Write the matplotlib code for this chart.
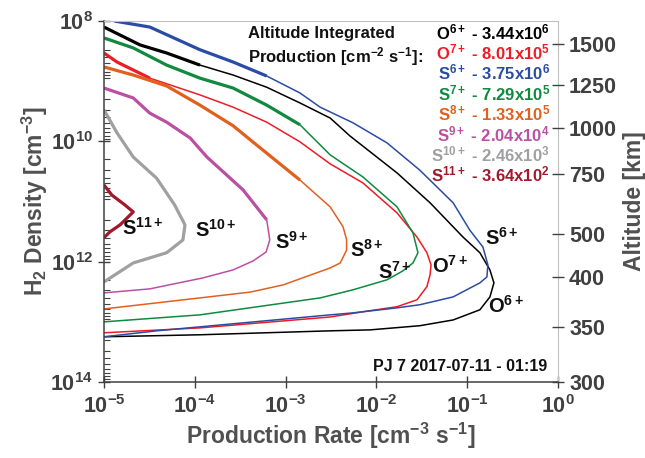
import matplotlib.pyplot as plt
import numpy as np

plt.rcParams['font.family'] = ['Liberation Sans', 'DejaVu Sans']
plt.rcParams['font.weight'] = 'bold'
plt.rcParams['axes.labelweight'] = 'bold'
plt.rcParams['mathtext.fontset'] = 'custom'
plt.rcParams['mathtext.rm'] = 'Liberation Sans:bold'
plt.rcParams['mathtext.it'] = 'Liberation Sans:bold'
plt.rcParams['mathtext.bf'] = 'Liberation Sans:bold'
plt.rcParams['mathtext.default'] = 'rm'

# production rate [cm^-3 s^-1] against H2 density [cm^-3], from the top down
o6_rate = [1.0e-5, 2.5e-5, 4.9e-5, 1.14e-4, 2.64e-4, 6.2e-4, 1.44e-3, 3.1e-3, 5.1e-3, 1.69e-2, 3.9e-2,
           9.0e-2, 0.138, 0.178, 0.197, 0.178, 0.138, 0.070, 0.030, 8.5e-3, 3.1e-3, 1.14e-4, 1.0e-5]
o6_dens = [1.26e8, 2.5e8, 3.4e8, 5.4e8, 7.9e8, 1.26e9, 2.3e9, 4.1e9, 8.1e9, 3.35e10, 1.05e11,
           3.9e11, 7.1e11, 1.37e12, 2.25e12, 3.85e12, 6.3e12, 9.3e12, 1.16e13, 1.36e13, 1.41e13, 1.64e13, 1.77e13]

o7_rate = [1.0e-5, 1.39e-5, 3.2e-5, 1.14e-4, 2.64e-4, 6.2e-4, 1.44e-3, 3.1e-3, 7.1e-3, 1.69e-2, 2.8e-2,
           3.6e-2, 4.0e-2, 3.9e-2, 3.6e-2, 2.8e-2, 1.69e-2, 7.1e-3, 3.1e-3, 1.14e-4, 1.0e-5]
o7_dens = [3.4e8, 4.8e8, 8.9e8, 1.69e9, 2.7e9, 4.8e9, 1.02e10, 2.37e10, 4.9e10, 1.55e11, 3.9e11,
           7.1e11, 1.13e12, 1.66e12, 2.6e12, 4.3e12, 5.6e12, 6.8e12, 8.3e12, 1.26e13, 1.52e13]

s6_rate = [1.3e-5, 3.2e-5, 1.14e-4, 2.64e-4, 6.2e-4, 1.44e-3, 2.4e-3, 5.5e-3, 1.31e-2, 3.0e-2, 7.0e-2, 0.107,
           0.149, 0.169, 0.165, 0.138, 0.070, 0.030, 1.69e-2, 5.5e-3, 3.1e-3, 1.14e-4, 3.8e-5, 1.0e-5]
s6_dens = [1.0e8, 1.26e8, 3.0e8, 4.8e8, 8.2e8, 1.57e9, 2.7e9, 4.9e9, 1.06e10, 3.0e10, 1.05e11, 3.0e11,
           5.7e11, 1.13e12, 1.79e12, 2.25e12, 3.85e12, 5.2e12, 5.85e12, 7.1e12, 7.65e12, 1.21e13, 1.41e13, 1.77e13]

s7_rate = [1.0e-5, 2.1e-5, 4.9e-5, 1.14e-4, 2.64e-4, 6.2e-4, 1.44e-3, 3.1e-3, 7.1e-3, 1.69e-2, 2.53e-2,
           2.87e-2, 2.53e-2, 1.96e-2, 1.31e-2, 5.5e-3, 2.4e-3, 1.14e-4, 1.0e-5]
s7_dens = [1.91e8, 2.8e8, 5.4e8, 8.9e8, 1.3e9, 2.5e9, 5.3e9, 1.68e10, 3.9e10, 1.23e11, 3.33e11,
           7.1e11, 1.05e12, 1.42e12, 2.0e12, 2.94e12, 4.0e12, 7.65e12, 1.0e13]

s8_rate = [1.0e-5, 2.1e-5, 4.9e-5, 1.14e-4, 2.64e-4, 4.8e-4, 1.44e-3, 3.1e-3, 4.3e-3, 4.7e-3, 4.7e-3,
           4.0e-3, 3.1e-3, 9.4e-4, 4.1e-4, 1.14e-4, 1.0e-5]
s8_dens = [5.8e8, 7.9e8, 1.2e9, 2.5e9, 5.5e9, 1.15e10, 4.4e10, 1.23e11, 2.64e11, 4.35e11, 6.4e11,
           1.05e12, 1.27e12, 2.43e12, 3.2e12, 4.0e12, 6.1e12]

s9_rate = [1.0e-5, 2.1e-5, 3.2e-5, 4.9e-5, 8.9e-5, 1.36e-4, 3.4e-4, 6.2e-4, 6.7e-4, 6.1e-4, 4.4e-4,
           2.64e-4, 1.23e-4, 3.2e-5, 1.0e-5]
s9_dens = [1.3e9, 1.9e9, 3.4e9, 4.8e9, 8.8e9, 1.82e10, 6.4e10, 2.02e11, 4.35e11, 6.9e11, 9.7e11,
           1.37e12, 1.86e12, 2.83e12, 3.3e12]

s10_rate = [1.0e-5, 1.39e-5, 2.1e-5, 3.8e-5, 6.0e-5, 7.8e-5, 7.4e-5, 4.9e-5, 2.1e-5, 1.0e-5]
s10_dens = [3.0e9, 7.2e9, 1.82e10, 4.1e10, 1.14e11, 2.45e11, 4.35e11, 7.1e11, 1.05e12, 2.17e12]

s11_rate = [1.0e-5, 1.22e-5, 1.7e-5, 2.1e-5, 1.5e-5, 1.16e-5, 1.0e-5]
s11_dens = [5.3e10, 7.8e10, 1.14e11, 1.49e11, 2.45e11, 3.2e11, 4.0e11]

ions = ['O$^{6+}$', 'O$^{7+}$', 'S$^{6+}$', 'S$^{7+}$', 'S$^{8+}$', 'S$^{9+}$', 'S$^{10+}$', 'S$^{11+}$']
column_rates = ['3.44x10$^{6}$', '8.01x10$^{5}$', '3.75x10$^{6}$', '7.29x10$^{5}$',
                '1.33x10$^{5}$', '2.04x10$^{4}$', '2.46x10$^{3}$', '3.64x10$^{2}$']
rates = [o6_rate, o7_rate, s6_rate, s7_rate, s8_rate, s9_rate, s10_rate, s11_rate]
densities = [o6_dens, o7_dens, s6_dens, s7_dens, s8_dens, s9_dens, s10_dens, s11_dens]

# where each curve label sits (rate, density)
label_rate = [0.169, 4.1e-2, 0.157, 1.04e-2, 5.1e-3, 7.6e-4, 1.0e-4, 1.58e-5]
label_dens = [5.4e12, 1.17e12, 4.0e11, 1.48e12, 6.3e11, 4.7e11, 2.97e11, 2.75e11]

alt_ticks = [1500, 1250, 1000, 750, 500, 400, 350, 300]
alt_dens = [2.4e8, 1.15e9, 6.0e9, 3.47e10, 3.47e11, 1.78e12, 1.2e13, 1.0e14]

colors = ['#000000', '#ee1c25', '#2b4ca5', '#0f8a3f', '#e2601e', '#bb50a2', '#a0a0a2', '#a3192c']
# curves are noisy (thicker) above these densities
noisy_until = [6e8, 1.0e9, 1.5e9, 1.5e10, 1.0e11, 4.0e11, 1e13, 1e13]

fig = plt.figure(figsize=(6.45, 4.58), dpi=100)
ax = fig.add_axes([0.1612, 0.1659, 0.7039, 0.7882])

for r, d, c, lim in zip(rates, densities, colors, noisy_until):
    r = np.array(r)
    d = np.array(d)
    ax.plot(r, d, color=c, lw=1.1)
    top = d <= lim
    ax.plot(r[top], d[top], color=c, lw=2.3, solid_capstyle='butt')

for ion, x, y in zip(ions, label_rate, label_dens):
    ax.text(x, y, ion, fontsize=14.5, ha='left', va='center', color='#111111')

ax.set_xscale('log')
ax.set_yscale('log')
ax.set_xlim(1e-5, 1)
ax.set_ylim(1e14, 1e8)

grey = '#404040'
ax.set_xticks([1e-5, 1e-4, 1e-3, 1e-2, 1e-1, 1])
ax.set_xticklabels(['$10^{-5}$', '$10^{-4}$', '$10^{-3}$', '$10^{-2}$', '$10^{-1}$', '$10^{0}$'])
ax.set_yticks([1e8, 1e10, 1e12, 1e14])
ax.set_yticklabels(['$10^{8}$', '$10^{10}$', '$10^{12}$', '$10^{14}$'])
ax.tick_params(which='major', direction='inout', length=9, width=1, color=grey,
               labelsize=15.5, labelcolor=grey)
ax.tick_params(which='minor', direction='in', length=4, width=0.8, color=grey)
ax.tick_params(axis='x', pad=5)
for s in ['left', 'bottom']:
    ax.spines[s].set_color(grey)
    ax.spines[s].set_linewidth(1.1)
for s in ['top', 'right']:
    ax.spines[s].set_color('#c0c0c0')

ax.set_xlabel('Production Rate [cm$^{-3}$ s$^{-1}$]', fontsize=16.5, color='#505050', labelpad=2)
ax.set_ylabel('H$_{2}$ Density [cm$^{-3}$]', fontsize=16.5, color='#505050', labelpad=0)

ax2 = ax.twinx()
ax2.set_yscale('log')
ax2.set_ylim(1e14, 1e8)
ax2.set_yticks(alt_dens)
ax2.set_yticklabels([str(a) for a in alt_ticks])
ax2.minorticks_off()
ax2.tick_params(direction='inout', length=9, width=1, color=grey, labelsize=15.5, labelcolor=grey)
for s in ax2.spines.values():
    s.set_visible(False)
ax2.set_ylabel('Altitude [km]', fontsize=16.5, color='#505050', labelpad=4)

ax.text(0.317, 0.953, 'Altitude Integrated', transform=ax.transAxes, fontsize=12, ha='left',
        va='baseline', color='#111111')
ax.text(0.317, 0.886, 'Production [cm$^{-2}$ s$^{-1}$]:', transform=ax.transAxes, fontsize=12,
        ha='left', va='baseline', color='#111111')
for i, (ion, col, c) in enumerate(zip(ions, column_rates, colors)):
    ax.text(0.982, 0.950 - i * 0.0565, ion + ' - ' + col, transform=ax.transAxes, fontsize=12,
            ha='right', va='baseline', color=c)

ax.text(0.976, 0.042, 'PJ 7 2017-07-11 - 01:19', transform=ax.transAxes, fontsize=11.5,
        ha='right', va='center', color='#111111')

fig.savefig('out.png', dpi=100)
